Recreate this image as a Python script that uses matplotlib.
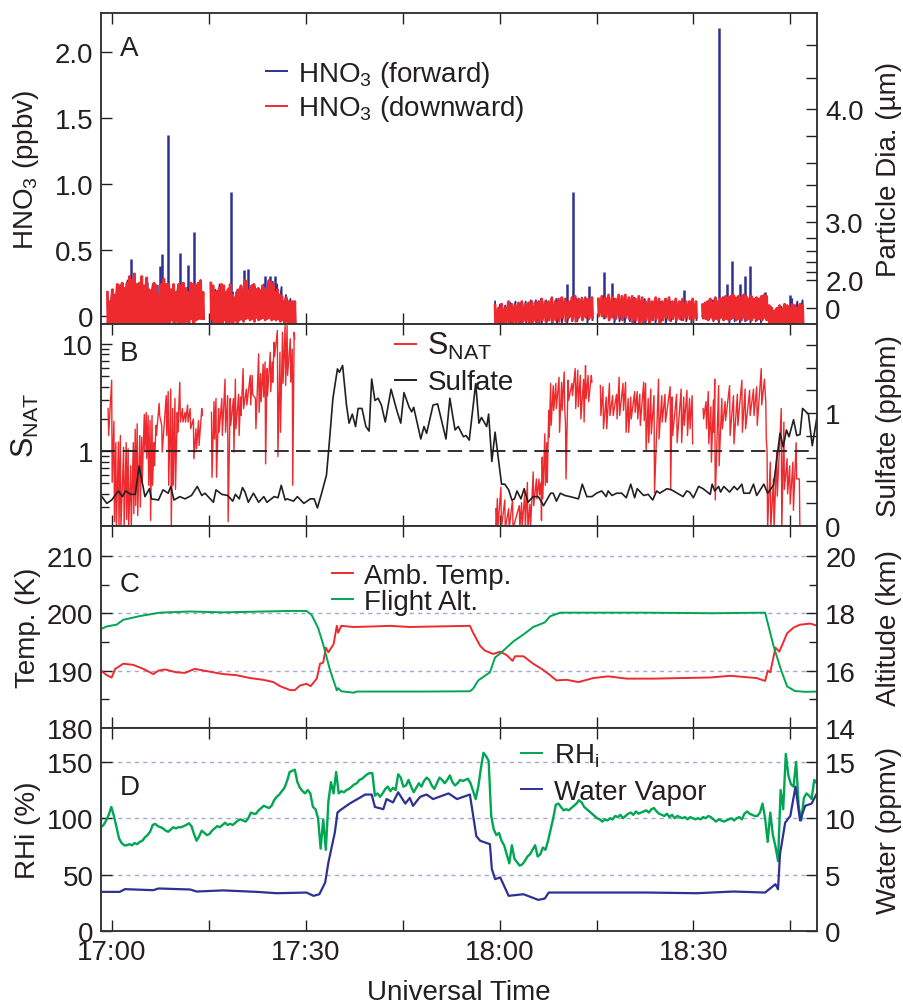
#!/usr/bin/env python
import numpy as np
import matplotlib
matplotlib.use('Agg')
import matplotlib.pyplot as plt
from matplotlib.lines import Line2D

plt.rcParams['font.family'] = ['Liberation Sans', 'DejaVu Sans']
plt.rcParams['mathtext.default'] = 'regular'
plt.rcParams['font.size'] = 20

# time is minutes after 17:00
hno3_segments = [(-0.7, 14.1), (15.3, 28.3), (59.3, 74.3), (75.3, 90.4), (91.4, 106.9)]

down_top = [
    [.18,.11,.20,.16,.24,.23,.25,.21,.25,.30,.27,.32,.24,.25,.30,.23,.29,.20,.18,.25,
     .23,.16,.24,.28,.24,.24,.20,.24,.18,.24,.23,.25,.21,.18,.25,.24,.23,.25,.27,.18],
    [.25,.23,.18,.19,.21,.24,.23,.18,.20,.24,.16,.14,.18,.20,.23,.19,.27,.20,.18,.23,
     .24,.20,.21,.19,.23,.21,.19,.27,.25,.24,.18,.20,.16,.15,.11,.14,.11,.10,.11,.11],
    [.08,.06,.09,.06,.11,.09,.08,.10,.11,.09,.10,.11,.10,.11,.13,.11,.11,.14,.11,.13,
     .14,.13,.11,.14,.15,.13,.13,.14,.13,.14],
    [.13,.15,.14,.16,.14,.13,.16,.15,.16,.14,.15,.13,.15,.14,.11,.13,.11,.14,.13,.11,
     .13,.14,.11,.13,.11,.13,.11,.11,.13,.11],
    [.08,.10,.11,.13,.10,.14,.11,.13,.14,.15,.14,.15,.16,.14,.15,.14,.16,.15,.13,.15,
     .13,.14,.13,.15,.16,.15,.08,.06,.04,.06,.08,.05,.09,.08,.06,.09,.08,.06,.09,.08],
]
down_bot = [
    [-.06,-.06,-.06,-.05,-.06,-.06,-.06,-.05,-.06,-.06,-.06,-.06,-.05,-.06,-.06,-.06,-.06,-.05,-.06,-.06,
     -.06,-.06,-.05,-.06,-.06,-.05,-.03,-.06,-.04,-.06,-.05,-.06,-.04,-.06,-.02,-.06,-.03,-.02,-.02,-.02],
    [-.02,-.06,-.05,-.06,-.04,-.06,-.03,-.05,-.06,-.04,-.06,-.03,-.05,-.03,-.02,-.04,-.02,-.01,-.03,-.02,
     -.04,-.01,-.03,-.02,-.01,-.03,-.02,-.01,-.03,-.02,-.03,-.02,-.04,-.03,-.05,-.04,-.06,-.05,-.06,-.06],
    [-.06,-.05,-.06,-.06,-.05,-.06,-.05,-.06,-.05,-.04,-.06,-.05,-.04,-.05,-.03,-.04,-.03,-.05,-.03,-.04,
     -.01,-.04,-.01,-.03,-.04,-.01,-.03,-.01,-.02,-.01],
    [.00,.00,-.01,-.03,-.01,-.02,-.01,-.03,-.01,-.02,-.05,-.03,-.06,-.05,-.03,-.06,-.03,-.02,-.05,-.03,
     -.01,-.03,-.02,-.03,-.02,-.03,-.01,-.02,-.03,-.01],
    [-.01,-.02,-.03,-.01,-.03,-.02,-.03,-.01,-.03,-.02,-.03,-.02,-.01,-.03,-.02,-.03,-.01,-.03,-.02,-.03,
     -.01,-.03,-.02,-.03,-.01,-.03,-.06,-.06,-.05,-.06,-.06,-.05,-.05,-.06,-.05,-.04,-.06,-.05,-.06,-.06],
]
forward_top = [
    [.16,.20,.24,.22,.27,.22,.24,.20,.25,.24,.23,.22,.24,.20,.22,.25,.22,.20,.18,.16],
    [.22,.20,.24,.23,.21,.18,.20,.21,.18,.20,.22,.20,.24,.22,.26,.24,.22,.16,.13,.11],
    [.11,.09,.08,.10,.11,.10,.11,.12,.12,.13,.12,.13,.13,.14,.13,.12,.13,.14,.13,.13],
    [.13,.15,.14,.13,.12,.13,.12,.14,.12,.13,.11,.12,.11,.13,.11,.12,.11,.10,.11,.10],
    [.09,.10,.12,.11,.13,.13,.12,.14,.13,.14,.13,.14,.13,.07,.05,.07,.06,.13,.11,.12],
]
forward_bot = [
    [-.06,-.06,-.04,-.06,-.06,-.06,-.05,-.06,-.06,-.05,-.06,-.06,-.05,-.06,-.04,-.06,-.03,-.06,.02,.01],
    [-.06,-.05,-.06,-.03,-.06,-.03,-.01,-.03,.00,-.02,.00,-.02,-.01,-.01,-.02,-.01,-.02,-.03,-.05,-.06],
    [-.06,-.06,-.06,-.05,-.06,-.06,-.05,-.06,-.06,-.06,-.05,-.06,-.06,-.05,-.06,-.04,-.04,-.03,-.05,-.03],
    [.01,-.02,-.03,-.05,-.04,-.05,-.04,-.06,-.05,-.06,-.04,-.05,-.05,-.06,-.04,-.05,-.03,-.04,-.05,-.03],
    [-.02,-.03,-.04,-.05,-.03,-.05,-.04,-.05,-.04,-.05,-.04,-.05,-.03,-.05,-.06,-.05,-.06,-.06,-.05,-.06],
]
spike_t = [3.0, 7.4, 7.7, 8.6, 10.6, 11.8, 12.75, 18.4, 20.4, 21.05, 23.7, 24.5, 25.3,
           70.5, 71.3, 73.8, 76.2, 77.4, 88.6, 93.9, 95.2, 96.0, 97.2, 98.0, 98.8, 101.1, 105.0]
spike_v = [.43, .38, .47, 1.37, .48, .39, .64, .94, .35, .36, .30, .30, .30,
           .24, .94, .23, .33, .25, .20, 2.18, .24, .42, .245, .30, .38, .18, .16]

dia_labels = ['0', '2.0', '', '', '', '', '3.0', '', '', '', '', '4.0', '', '']
# particle diameter scale is cubic, ticks given on the HNO3 axis
dia_tick_pos = [.06, .27, .33, .41, .49, .59, .71, .83, .99, 1.16, 1.36, 1.57, 1.80, 2.05]

snat_t = [-.6,-.05,.3,.6,1.0,1.3,1.8,2.2,2.5,2.9,3.3,3.6,3.9,4.3,4.6,5.0,5.3,5.6,5.9,6.2,6.5,6.8,
          7.3,7.7,8.4,8.7,9.1,9.4,9.75,10.1,10.5,10.9,11.3,11.7,12.1,12.6,13.0,13.4,13.9,14.5,
          15.4,15.8,16.1,16.5,17.0,17.5,17.9,18.3,18.8,19.1,19.6,19.9,20.3,20.8,21.4,21.7,22.2,22.7,
          23.0,23.4,23.7,24.0,24.5,24.8,25.1,25.6,26.0,26.4,26.8,27.1,27.6,27.9,28.2,40.0,
          59.4,59.65,60.2,60.8,61.4,62.0,63.05,63.4,63.9,64.3,64.7,65.2,65.7,66.1,66.4,66.6,67.0,67.3,
          67.6,67.9,68.3,68.7,69.2,69.6,70.0,70.2,70.6,71.2,71.7,72.1,72.5,73.0,73.3,73.7,74.2,75.0,
          75.6,76.0,76.5,77.0,77.5,78.1,78.5,79.1,79.5,79.9,80.3,80.9,81.3,81.7,82.3,82.6,83.0,83.4,
          83.9,84.6,85.1,85.6,86.4,86.7,87.4,88.1,88.5,89.0,89.4,89.8,90.8,
          91.5,91.95,92.3,92.7,93.1,93.3,93.9,94.4,94.9,95.6,96.2,96.8,97.5,98.0,98.7,99.3,99.8,
          100.5,101.0,101.2,101.4,101.9,102.4,102.9,103.6,104.0,104.5,104.9,105.4,105.9,106.4]
snat_hi = [2.5,4.6,1.9,1.2,1.22,1.4,1.09,1.2,1.05,.73,1.2,1.6,1.8,1.4,1.35,2.2,2.3,2.15,1.93,2.15,1.2,1.74,
           2.8,1.74,3.3,3.6,3.8,2.5,3.1,2.3,4.4,2.5,2.3,2.7,2.5,2.0,1.62,1.93,2.5,np.nan,
           2.3,2.9,3.1,2.5,3.1,4.7,3.3,3.1,3.1,4.7,3.4,3.2,5.9,3.8,5.1,5.1,3.1,8.1,
           5.3,6.5,6.8,5.9,8.4,6.8,10.4,13.4,8.4,12.9,14.9,14.9,11.2,9.0,12.9,np.nan,
           .29,.36,.46,.35,.29,.35,.31,.33,.41,.51,.32,.64,.55,.55,.51,.88,1.45,1.2,
           2.4,4.3,4.1,4.3,4.9,4.4,5.5,1.8,4.6,4.3,5.9,5.7,5.1,4.7,6.3,5.1,5.1,np.nan,
           4.1,4.0,3.2,4.3,3.3,3.4,4.9,4.3,4.4,3.1,3.2,3.6,3.6,3.4,4.4,4.3,3.1,3.8,
           3.3,4.7,3.3,3.4,4.0,3.2,3.4,3.8,3.2,3.7,3.1,3.3,np.nan,
           2.5,2.9,3.6,2.6,3.0,4.7,4.1,3.1,2.9,4.1,3.3,3.4,4.6,3.8,3.7,3.8,4.0,
           5.9,4.7,2.9,1.01,.79,.55,.98,2.5,1.87,.85,.73,.79,1.2,.55]
snat_lo = [1.4,.51,.22,.19,.19,.19,.19,.23,.19,.19,.26,.31,.25,.30,.51,.98,.85,.48,.225,.48,.73,1.4,
           2.15,.98,1.4,.48,.19,.48,.44,1.5,1.87,1.87,1.87,1.87,1.62,.85,1.05,1.13,2.15,np.nan,
           .57,1.3,.57,1.5,1.4,1.5,.22,1.74,.98,1.62,1.4,2.15,2.5,2.7,2.7,3.4,1.62,2.3,
           2.9,3.2,.76,3.3,3.6,4.4,7.7,.89,1.5,4.3,4.1,5.1,4.4,.48,11.2,np.nan,
           .19,.19,.19,.19,.19,.19,.19,.19,.19,.19,.19,.31,.36,.39,.225,.36,.48,.51,
           1.35,1.74,2.4,2.5,1.5,2.4,2.5,.55,3.0,3.3,2.5,2.6,2.0,1.87,3.1,2.9,4.4,np.nan,
           2.15,1.62,1.62,2.15,2.15,2.0,2.15,2.4,1.5,1.5,2.0,2.3,2.0,1.74,1.93,1.02,1.2,1.45,
           .41,1.3,1.87,1.87,.44,1.4,1.2,1.2,1.74,1.4,1.62,1.17,np.nan,
           2.0,1.62,1.17,.79,1.5,.35,.73,1.62,1.93,1.4,1.17,1.74,1.5,1.62,2.15,2.15,1.74,
           2.7,3.8,1.3,.19,.19,.19,.38,.19,.44,.4,.32,.28,.55,.19]

sulfate_t = [-1.7,-.8,-.05,1.0,1.6,2.1,2.9,3.6,4.2,5.1,5.8,6.1,7.2,7.9,8.7,9.1,9.6,10.5,11.3,12.3,13.2,13.9,14.4,
             15.2,15.7,16.1,17.0,17.9,18.7,19.1,19.7,20.2,20.6,21.1,21.9,22.7,23.5,24.0,25.1,25.7,26.2,26.8,27.1,
             28.1,28.7,29.7,30.7,31.3,31.8,32.5,33.2,33.6,34.2,34.9,35.2,35.7,36.3,36.7,37.2,37.7,38.1,38.7,39.3,39.8,
             40.2,40.7,41.2,41.7,42.3,43.2,44.1,44.7,45.2,46.0,46.4,46.7,47.8,48.3,48.7,49.7,50.4,51.7,52.3,53.1,53.6,
             54.4,54.8,55.3,56.3,56.8,57.2,58.0,58.3,58.8,59.3,60.3,60.8,61.4,61.9,62.3,62.7,63.3,63.8,64.4,65.2,66.0,
             66.8,67.9,68.3,68.8,69.4,70.1,70.9,72.2,72.8,73.5,74.3,75.0,75.8,76.5,76.8,77.4,78.1,78.9,79.6,80.3,80.9,
             81.3,82.3,83.0,83.7,84.3,84.8,85.9,86.6,88.4,88.97,89.4,90.0,90.8,91.5,92.6,92.9,93.3,93.9,94.2,94.7,95.6,
             96.3,96.8,97.5,97.8,98.7,99.3,99.8,100.9,101.5,102.4,103.4,103.9,104.4,104.8,105.5,106.0,106.5,106.9,107.8,108.4,109.2]
sulfate = [.27,.20,.23,.31,.26,.31,.28,.28,.53,.26,.33,.24,.23,.32,.29,.35,.23,.26,.24,.27,.35,.27,.29,
           .24,.21,.32,.28,.27,.22,.28,.24,.34,.30,.21,.29,.21,.26,.21,.26,.25,.36,.23,.24,
           .22,.26,.20,.24,.24,.16,.30,.45,.71,1.13,1.39,1.36,1.42,1.07,.91,.99,.88,1.04,1.04,.88,.84,
           1.30,1.11,1.13,1.07,.92,1.21,1.02,.91,1.18,1.05,1.01,1.05,.77,.88,.82,1.07,1.08,.77,1.13,.85,.88,
           .79,.80,.76,1.26,.91,.96,.88,.99,.57,.83,.37,.37,.32,.23,.24,.31,.24,.33,.21,.26,.26,
           .18,.29,.29,.22,.29,.27,.26,.24,.37,.26,.26,.29,.31,.26,.31,.27,.29,.29,.25,.37,.25,
           .33,.27,.28,.23,.31,.29,.33,.32,.26,.31,.30,.25,.35,.33,.28,.37,.31,.35,.30,.35,.30,
           .35,.32,.37,.29,.29,.37,.27,.37,.29,.36,.82,.70,.85,.79,.94,.80,.81,1.04,.99,.71,.99]

temp_t = [-1.7,-.8,-.05,.5,1.75,3.3,4.85,6.4,7.2,8.2,10,11.3,12.8,15.2,17.2,19.3,21.4,23.4,25,26,27.6,28.3,29.1,
          30.1,30.75,31.7,32.2,32.7,33.1,33.5,34.3,34.8,35,35.5,37.4,40.5,43,46.1,50.3,55.4,55.9,57,57.7,59,60.1,
          61.1,62,62.4,63.7,65.2,66.5,67.6,68.8,70.4,72.2,74.5,76.8,79.7,83.8,87.9,92.6,95.7,99.8,101.1,101.5,101.9,
          102.7,103.3,104.5,105.5,106.5,108.1,109.2]
temp = [190,189.2,188.8,190.3,191.2,191,190.3,189.4,190,190.2,189.7,189.6,190.3,189.8,189.4,189.2,188.7,188.4,188,187.3,186.6,186.6,187.4,
        187.7,187.3,188.6,191.2,191.4,194,193.2,194.6,197.8,196.6,197.8,197.6,197.7,197.8,197.6,197.7,197.8,196.6,194.3,193.5,192.9,193.3,
        192.7,191.7,192.5,192.5,191.2,190.3,189.4,188.3,188.4,188,188.7,189,188.6,188.6,188.7,188.8,189.1,188.7,188.2,190,189.7,
        194,193.3,196.5,197.5,198,198.2,197.8]
alt_t = [-1.7,-.8,.7,1.75,4.3,7.4,12.1,17.2,27.6,30.1,30.9,31.9,32.7,33.7,34.8,35,35.5,37.4,37.9,43,48.2,55.4,55.9,56.7,
         58.5,59.3,60.1,62.2,63.7,65.2,67,67.8,69.4,74.5,82.3,93.1,101.1,102.4,103.6,104.5,105.7,107.3,109.2]
altitude = [17.45,17.54,17.6,17.77,17.9,18.02,18.06,18.03,18.08,18.08,17.94,17.49,16.91,16.06,15.31,15.39,15.28,15.23,15.27,15.27,15.27,15.28,15.37,15.66,
            15.94,16.46,16.6,17.03,17.26,17.52,17.68,17.89,18.02,18.02,18.02,18,18.02,16.86,16,15.45,15.29,15.26,15.27]

# RHi read every 0.4 min from 16:58.3
rhi_t0, rhi_dt = -1.7, 0.4
rhi = [92,94,98,103,110,102,92,82,78,76,
       76,77,76,78,77,79,80,83,85,88,
       94,95,93,92,91,89,88,90,92,91,
       92,92,93,94,95.5,93,86,80,84,89,
       87,85,86,89,91,93,92,94,96,94,
       95,94,96,98,99,98,97,100,105,104,
       104,107,109,111,110,109,111,116,119,121,
       124,127,133,141,142,143,132,127,124,122,
       125,122,110,108,100,73,99,72,115,132,
       122,141,122,124,123,125,126,128,130,131,
       134,135,137,139,140,140,120,122,119,122,
       126,128,124,127,125,139,136,128,129,134,
       128,123,127,131,128,133,136,134,129,126,
       131,136,134,131,134,138,132,129,131,134,
       133,134,135,131,124,117,128,144,158,155,
       151,102,90,85,87,80,76,68,60,76,
       64,61,58,59,62,66,68,72,76,66,
       68,74,72,80,90,100,112,113,110,107,
       108,107,109,111,113,116,114,110,108,106,
       104,102,100,99,97,99,98,100,99,102,
       101,103,100,102,104,105,103,106,104,105,
       106,107,105,108,109,106,104,103,102,104,
       101,103,100,102,101,100,101,99,101,100,
       99,100,99,101,100,102,101,99,97,99,
       98,97,98,99,100,98,100,101,99,104,
       106,104,103,102,102,105,113,100,79,105,
       85,75,62,125,108,157,138,130,128,150,
       110,98,118,122,120,117,134,131]
water_t = [-1.7,1.2,2,6.4,7.2,12.1,13.1,17.2,22.4,25.5,30.1,31.2,32.1,33,33.5,34.5,34.9,35.3,36.8,39.2,40.2,40.7,42,42.5,43.5,44.3,
           45.4,46.1,46.6,47.7,48.7,49.7,52.1,53.4,55.4,56.4,57,58.5,58.8,59.3,60.1,61.4,63.7,66,67,67.6,72.4,82.8,90.5,96.2,101.1,
           102.7,103.1,103.4,104.2,105,105.8,106.5,107.3,108.3,109.2]
water = [3.47,3.47,3.71,3.62,3.77,3.68,3.5,3.6,3.47,3.35,3.41,3.12,3.26,4.3,6.08,8.75,10.5,10.7,11.3,12.1,12.1,11,10.8,11.7,11.4,12.3,
         11.3,11.8,11.1,11.9,12.1,11.7,12.2,11.7,12.1,8.4,8,7.7,5.5,4.6,4.75,3.12,3.26,2.76,2.88,3.41,3.41,3.41,3.35,3.5,3.41,
         4.15,3.7,6.8,9.6,10.2,12.8,9.8,11.1,11.3,12.3]

RED = '#ee2a2e'
BLUE = '#2e3192'
GREEN = '#00a651'
DARK = '#231f20'
GRID = '#a3a8d8'
W, H = 904., 1004.
LEFT, RIGHT = 101., 817.
T0, T1 = -1.7, 109.13
TIME_TICKS = [0, 15, 30, 45, 60, 75, 90, 105]
TIME_LABELS = ['17:00', '', '17:30', '', '18:00', '', '18:30', '']


def make_panel(fig, top, bottom, letter, letter_y):
    ax = fig.add_axes([LEFT / W, 1 - bottom / H, (RIGHT - LEFT) / W, (bottom - top) / H])
    tw = ax.twinx()
    ax.set_xlim(T0, T1)
    ax.set_xticks(TIME_TICKS)
    ax.set_xticklabels([])
    ax.tick_params(axis='x', which='both', direction='in', top=True, length=8, width=1, color=DARK)
    ax.tick_params(axis='y', which='major', direction='in', length=8, width=1, color=DARK, labelcolor=DARK, pad=5.5)
    ax.tick_params(axis='y', which='minor', direction='in', length=6, width=1, color=DARK)
    tw.tick_params(axis='y', which='major', direction='in', length=8, width=1, color=DARK, labelcolor=DARK, pad=6)
    tw.tick_params(axis='y', which='minor', direction='in', length=6, width=1, color=DARK)
    for s in list(ax.spines.values()) + list(tw.spines.values()):
        s.set_linewidth(1.1)
        s.set_color('#333333')
    ax.text((120 - LEFT) / (RIGHT - LEFT), (bottom - letter_y) / (bottom - top), letter,
            transform=ax.transAxes, color=DARK, ha='left', va='center', zorder=10)
    return ax, tw


def zigzag(t, hi, lo):
    t = np.asarray(t, dtype=float)
    xs = np.column_stack([t, t + 0.08]).ravel()
    ys = np.column_stack([hi, lo]).ravel()
    return xs, ys


def side_label(ax, text, x_px, size=20):
    ax.set_ylabel(text, color=DARK, fontsize=size)
    ax.yaxis.set_label_coords((x_px - LEFT) / (RIGHT - LEFT), 0.5)


def add_legend(ax, colors, labels, x_px, top_px, y0_px, y1_px, spacing):
    handles = [Line2D([], [], color=c, lw=1.4) for c in colors]
    leg = ax.legend(handles, labels, frameon=False, loc='upper left',
                    bbox_to_anchor=((x_px - LEFT) / (RIGHT - LEFT), (y1_px - top_px) / (y1_px - y0_px)),
                    borderaxespad=0, borderpad=0, handlelength=0.75, handletextpad=0.42,
                    labelspacing=spacing, labelcolor=DARK)
    leg.set_zorder(20)
    return leg


fig = plt.figure(figsize=(W / 100, H / 100), dpi=100)

# panel A
ax, tw = make_panel(fig, 14, 325, 'A', 49)
for seg, hi, lo in zip(hno3_segments, forward_top, forward_bot):
    ax.plot(*zigzag(np.linspace(seg[0], seg[1], len(hi)), hi, lo), color=BLUE, lw=1.3)
ax.vlines(spike_t, 0, spike_v, color=BLUE, lw=1.8)
for seg, hi, lo in zip(hno3_segments, down_top, down_bot):
    ax.plot(*zigzag(np.linspace(seg[0], seg[1], len(hi)), hi, lo), color=RED, lw=2.0)
ax.set_ylim(-0.06, 2.295)
ax.set_yticks([0, .5, 1, 1.5, 2])
ax.set_yticklabels(['0', '0.5', '1.0', '1.5', '2.0'])
tw.set_ylim(-0.06, 2.295)
tw.set_yticks(dia_tick_pos)
tw.set_yticklabels(dia_labels)
side_label(ax, 'HNO$_3$ (ppbv)', 41)
side_label(tw, 'Particle Dia. (µm)', 876)
add_legend(ax, [BLUE, RED], ['HNO$_3$ (forward)', 'HNO$_3$ (downward)'], 266, 60, 14, 325, 0.16)

# panel B
ax, tw = make_panel(fig, 325, 527, 'B', 354)
ax.set_yscale('log')
ax.plot(*zigzag(snat_t, snat_hi, snat_lo), color=RED, lw=1.0)
ax.axhline(1, color=DARK, lw=1.3, dashes=(8, 4))
ax.set_ylim(0.2, 15.4)
ax.set_yticks([1, 10])
ax.set_yticklabels(['1', '10'])
ax.set_yticks([.2, .3, .4, .5, .6, .7, .8, .9, 2, 3, 4, 5, 6, 7, 8, 9], minor=True)
ax.set_yticklabels([], minor=True)
tw.plot(sulfate_t, sulfate, color=DARK, lw=1.2)
tw.set_ylim(0, 1.787)
tw.set_yticks([0, .2, .4, .6, .8, 1, 1.2, 1.4, 1.6])
tw.set_yticklabels(['0', '', '', '', '', '1', '', '', ''])
side_label(ax, 'S$_{NAT}$', 41, size=22)
side_label(tw, 'Sulfate (ppbm)', 876)
leg = add_legend(tw, [RED, DARK], ['S$_{NAT}$', 'Sulfate'], 395, 331, 325, 527, 0.3)
leg.get_texts()[0].set_fontsize(22)

# panel C
ax, tw = make_panel(fig, 527, 729, 'C', 585)
ax.plot(temp_t, temp, color=RED, lw=1.4)
ax.set_ylim(180, 215.2)
ax.set_yticks([180, 190, 200, 210])
ax.set_yticks([185, 195, 205], minor=True)
ax.grid(axis='y', which='major', color=GRID, lw=1, dashes=(3, 3))
tw.plot(alt_t, altitude, color=GREEN, lw=1.4)
tw.set_ylim(14, 21.04)
tw.set_yticks([14, 16, 18, 20])
tw.set_yticks([15, 17, 19], minor=True)
side_label(ax, 'Temp. (K)', 41)
side_label(tw, 'Altitude (km)', 876)
add_legend(tw, [RED, GREEN], ['Amb. Temp.', 'Flight Alt.'], 332, 564, 527, 729, 0.0)

# panel D
ax, tw = make_panel(fig, 729, 932, 'D', 788)
rhi_t = rhi_t0 + rhi_dt * np.arange(len(rhi))
ax.plot(rhi_t, rhi, color=GREEN, lw=1.7)
ax.set_ylim(0, 180)
ax.set_yticks([0, 50, 100, 150])
ax.grid(axis='y', which='major', color=GRID, lw=1, dashes=(3, 3))
tw.plot(water_t, water, color=BLUE, lw=1.6)
tw.set_ylim(0, 18)
tw.set_yticks([0, 5, 10, 15])
ax.set_xticklabels(TIME_LABELS, color=DARK)
ax.tick_params(axis='x', pad=6)
ax.set_xlabel('Universal Time', color=DARK, labelpad=9.5)
side_label(ax, 'RHi (%)', 41)
side_label(tw, 'Water (ppmv)', 876)
add_legend(tw, [GREEN, BLUE], ['RH$_i$', 'Water Vapor'], 521, 743, 729, 932, 0.33)

fig.savefig('out.png', dpi=100)
